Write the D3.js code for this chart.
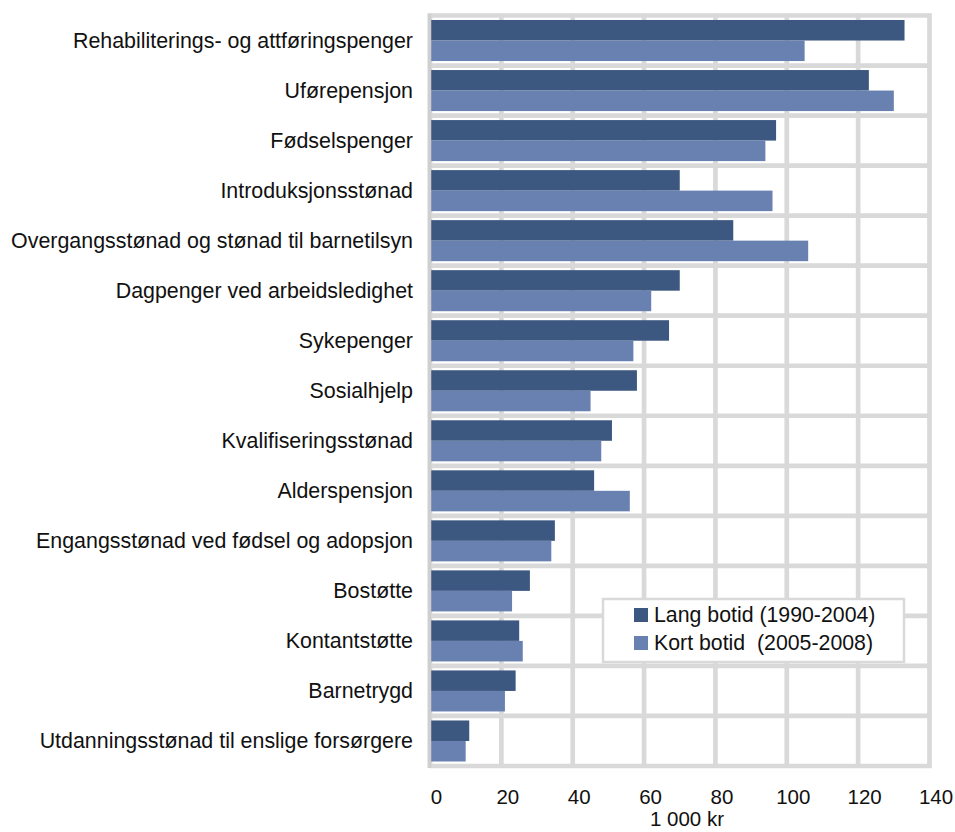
<!DOCTYPE html>
<html>
<head>
<meta charset="utf-8">
<script src="https://cdn.jsdelivr.net/npm/d3@7"></script>
<style>
    body { margin: 0; background: #ffffff; }
    svg { display: block; font-family: 'Liberation Sans', Arial, sans-serif; }
</style>
</head>
<body>
<svg id="canvas" width="955" height="832"></svg>
<script>
// chart data
let categories = [
    'Rehabiliterings- og attføringspenger',
    'Uførepensjon',
    'Fødselspenger',
    'Introduksjonsstønad',
    'Overgangsstønad og stønad til barnetilsyn',
    'Dagpenger ved arbeidsledighet',
    'Sykepenger',
    'Sosialhjelp',
    'Kvalifiseringsstønad',
    'Alderspensjon',
    'Engangsstønad ved fødsel og adopsjon',
    'Bostøtte',
    'Kontantstøtte',
    'Barnetrygd',
    'Utdanningsstønad til enslige forsørgere'
]
let langBotid = [133, 123, 97, 70, 85, 70, 67, 58, 51, 46, 35, 28, 25, 24, 11]
let kortBotid = [105, 130, 94, 96, 106, 62, 57, 45, 48, 56, 34, 23, 26, 21, 10]
let seriesNames = ['Lang botid (1990-2004)', 'Kort botid  (2005-2008)']
let xTicks = [0, 20, 40, 60, 80, 100, 120, 140]
let axisTitle = '1 000 kr'

let colors = ['#3d5880', '#6881b0']
let gridColor = '#d9d9d9'

let canvas = d3.select('#canvas')

let plotLeft = 430
let plotRight = 929.5
let plotTop = 15.5
let plotBottom = 766

let xScale = d3.scaleLinear()
    .domain([0, 140])
    .range([plotLeft, plotRight])

let yScale = d3.scaleBand()
    .domain(categories)
    .range([plotTop, plotBottom])
    .paddingInner(0.18)
    .paddingOuter(0.09)

let subScale = d3.scaleBand()
    .domain([0, 1])
    .range([0, yScale.bandwidth()])

// grid lines
let grid = canvas.append('g')
grid.selectAll('line.v')
    .data(xTicks)
    .enter()
    .append('line')
    .attr('x1', (d) => xScale(d))
    .attr('x2', (d) => xScale(d))
    .attr('y1', plotTop - 2)
    .attr('y2', plotBottom + 2)
    .attr('stroke', gridColor)
    .attr('stroke-width', 4.7)

let step = yScale.step()
grid.selectAll('line.h')
    .data(d3.range(categories.length + 1))
    .enter()
    .append('line')
    .attr('x1', plotLeft)
    .attr('x2', plotRight + 2)
    .attr('y1', (d) => plotTop + d * step)
    .attr('y2', (d) => plotTop + d * step)
    .attr('stroke', gridColor)
    .attr('stroke-width', 4.7)

// bars
let rows = categories.map((c, i) => ({ name: c, values: [langBotid[i], kortBotid[i]] }))

let groups = canvas.append('g')
    .selectAll('g')
    .data(rows)
    .enter()
    .append('g')
    .attr('transform', (d) => 'translate(0,' + yScale(d.name) + ')')

groups.selectAll('rect')
    .data((d) => d.values)
    .enter()
    .append('rect')
    .attr('x', xScale(0))
    .attr('y', (d, i) => subScale(i))
    .attr('width', (d) => xScale(d) - xScale(0))
    .attr('height', subScale.bandwidth())
    .attr('fill', (d, i) => colors[i])

// left axis line over bar starts
canvas.append('line')
    .attr('x1', plotLeft - 0.5).attr('x2', plotLeft - 0.5)
    .attr('y1', plotTop - 2).attr('y2', plotBottom + 2)
    .attr('stroke', '#cfcfcf')
    .attr('stroke-width', 3.5)

// category labels
canvas.append('g')
    .selectAll('text')
    .data(categories)
    .enter()
    .append('text')
    .attr('x', 413)
    .attr('y', (d) => yScale(d) + yScale.bandwidth() / 2)
    .attr('dy', '0.35em')
    .attr('text-anchor', 'end')
    .attr('font-size', 21.4)
    .attr('fill', '#111')
    .text((d) => d)

// x axis labels
let xAxis = d3.axisBottom(xScale)
    .tickValues(xTicks)
    .tickSize(0)
    .tickPadding(0)

let axisG = canvas.append('g')
    .attr('transform', 'translate(6,804)')
    .call(xAxis)
axisG.select('.domain').remove()
axisG.selectAll('text')
    .attr('font-size', 20.5)
    .attr('font-family', "'Liberation Sans', Arial, sans-serif")
    .attr('fill', '#111')
    .attr('dy', 0)

canvas.append('text')
    .attr('x', 687)
    .attr('y', 826)
    .attr('text-anchor', 'middle')
    .attr('font-size', 20.5)
    .attr('fill', '#111')
    .text(axisTitle)

// legend
let legend = canvas.append('g')
legend.append('rect')
    .attr('x', 603)
    .attr('y', 599)
    .attr('width', 301)
    .attr('height', 63)
    .attr('fill', '#ffffff')
    .attr('stroke', gridColor)
    .attr('stroke-width', 2.5)

let items = legend.selectAll('g')
    .data(seriesNames)
    .enter()
    .append('g')
    .attr('transform', (d, i) => 'translate(634,' + (608 + i * 28) + ')')

items.append('rect')
    .attr('width', 14)
    .attr('height', 14)
    .attr('fill', (d, i) => colors[i])

items.append('text')
    .attr('x', 20)
    .attr('y', 13.5)
    .attr('font-size', 21.3)
    .attr('fill', '#111')
    .style('white-space', 'pre')
    .text((d) => d)
</script>
</body>
</html>
